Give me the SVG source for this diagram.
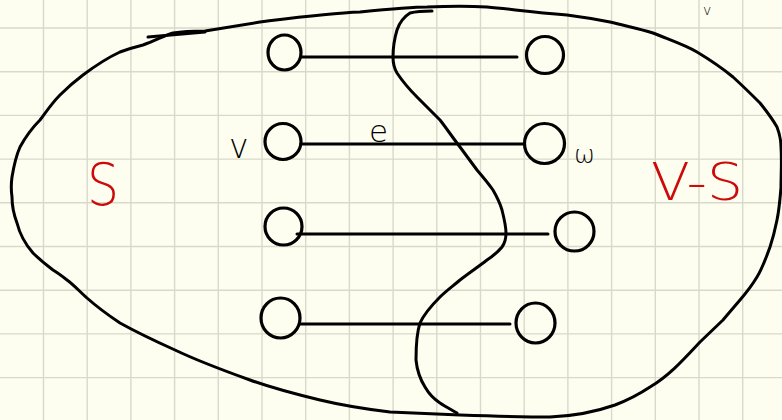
<svg xmlns="http://www.w3.org/2000/svg" width="782" height="420" viewBox="0 0 782 420">
<defs>
<style>
.grid line{stroke:#d9d9cb;stroke-width:1.4}
.ink{fill:none;stroke:#000;stroke-width:3;stroke-linecap:round;stroke-linejoin:round}
.node{fill:none;stroke:#000;stroke-width:3.2}
.edge{stroke:#000;stroke-width:3;stroke-linecap:round}
.lbl{font-family:"DejaVu Sans","Liberation Sans",sans-serif;font-weight:200;fill:#000}
.red{font-family:"DejaVu Sans","Liberation Sans",sans-serif;font-weight:200;fill:#cc0a0a}
</style>
</defs>
<rect width="782" height="420" fill="#fdfdf0"/>
<g class="grid">
<line x1="43.5" y1="0" x2="43.5" y2="420"/><line x1="87.2" y1="0" x2="87.2" y2="420"/><line x1="130.9" y1="0" x2="130.9" y2="420"/><line x1="174.6" y1="0" x2="174.6" y2="420"/><line x1="218.3" y1="0" x2="218.3" y2="420"/><line x1="262" y1="0" x2="262" y2="420"/><line x1="305.7" y1="0" x2="305.7" y2="420"/><line x1="349.4" y1="0" x2="349.4" y2="420"/><line x1="393.1" y1="0" x2="393.1" y2="420"/><line x1="436.8" y1="0" x2="436.8" y2="420"/><line x1="480.5" y1="0" x2="480.5" y2="420"/><line x1="524.2" y1="0" x2="524.2" y2="420"/><line x1="567.9" y1="0" x2="567.9" y2="420"/><line x1="611.6" y1="0" x2="611.6" y2="420"/><line x1="655.3" y1="0" x2="655.3" y2="420"/><line x1="699" y1="0" x2="699" y2="420"/><line x1="742.7" y1="0" x2="742.7" y2="420"/>
<line x1="0" y1="28" x2="782" y2="28"/><line x1="0" y1="71.7" x2="782" y2="71.7"/><line x1="0" y1="115.4" x2="782" y2="115.4"/><line x1="0" y1="159.1" x2="782" y2="159.1"/><line x1="0" y1="202.8" x2="782" y2="202.8"/><line x1="0" y1="246.5" x2="782" y2="246.5"/><line x1="0" y1="290.2" x2="782" y2="290.2"/><line x1="0" y1="333.9" x2="782" y2="333.9"/><line x1="0" y1="377.6" x2="782" y2="377.6"/>
</g>
<g id="set-boundary">
<path class="ink" stroke-width="2.6" d="M143,45 C155,41 165,35 173,33 C185,31 195,31 205,31 L260,22 C300,17 330,13 360,12 C390,9 410,7 427,7 C450,6 470,6 487,7 C510,9 530,12 567,15 C590,18 600,20 610,22 C630,27 640,29 653,33 C670,40 685,45 697,52 C712,61 722,68 733,77 C745,88 752,95 760,103 C768,113 773,120 777,127 C780,135 781,141 781,147 C782,160 781,175 781,187 C780,200 779,210 777,220 C775,230 773,238 770,247 C766,258 763,267 757,277 C751,287 746,293 740,300 C734,307 728,314 723,320 L700,342 C685,358 670,375 650,387 C638,395 628,400 615,405 C595,412 575,416 550,417 C520,417 490,416 460,415 C435,414 412,413 390,412 C365,409 345,406 320,400 C295,394 275,389 250,380 C225,371 200,362 175,350 C155,341 138,333 120,323 C108,315 96,306 87,298 C80,292 74,285 67,280 C62,276 58,273 53,270 C45,264 39,259 33,253 C26,245 20,235 17,223 C14,215 12,206 12,197 C11,190 11,184 12,177 C14,165 16,156 20,147 C26,136 32,128 40,120 C46,112 52,103 60,95 C67,88 75,81 83,75 C95,66 107,58 120,52 C128,49 135,47 143,45 Z"/>
<path class="ink" stroke-width="2.2" d="M148,37 L205,32"/>
</g>
<g id="cut">
<path class="ink" stroke-width="2.6" d="M432,11 C420,11 414,12 410,13 C402,18 399,24 397,30 C394,40 393,50 393,57 C393,63 394,68 397,73 C403,82 410,90 417,97 C425,105 432,112 440,120 C447,129 453,138 460,147 C466,155 471,162 477,170 C483,177 488,183 493,190 C497,197 500,203 502,210 C504,218 506,226 506,233 C506,239 505,243 502,247 C498,252 493,256 487,260 C478,267 469,273 460,280 C453,286 446,291 440,297 C433,304 425,312 420,323 C416,335 416,348 416,360 C417,370 420,379 425,387 C429,394 434,399 440,403 C446,407 452,410 457,413"/>
</g>
<g id="connectors">
<line class="edge" x1="301" y1="57" x2="517" y2="57"/>
<line class="edge" x1="301" y1="144" x2="523" y2="144"/>
<line class="edge" x1="297" y1="234" x2="548" y2="234"/>
<line class="edge" x1="300" y1="324" x2="510" y2="324"/>
</g>
<g id="node-a1"><ellipse class="node" cx="284.5" cy="52.5" rx="16.5" ry="17.5"/></g>
<g id="node-b1"><circle class="node" cx="545" cy="55" r="18.5"/></g>
<g id="node-v"><circle class="node" cx="283" cy="141.5" r="18"/></g>
<g id="node-w"><circle class="node" cx="544.5" cy="143.5" r="20"/></g>
<g id="node-a3"><circle class="node" cx="283.5" cy="226.5" r="18.5"/></g>
<g id="node-b3"><circle class="node" cx="574.5" cy="231.5" r="19.5"/></g>
<g id="node-a4"><ellipse class="node" cx="280.5" cy="318" rx="19.5" ry="20"/></g>
<g id="node-b4"><ellipse class="node" cx="535.5" cy="323" rx="19.5" ry="20"/></g>
<g id="labels">
<text class="lbl" x="229" y="158" font-size="33">v</text>
<text class="lbl" x="369" y="142" font-size="31">e</text>
<text class="lbl" x="574" y="163" font-size="25">ω</text>
<text class="lbl" x="703" y="15" font-size="14" font-weight="400">v</text>
<text class="red" x="87" y="205" font-size="58" textLength="32" lengthAdjust="spacingAndGlyphs">S</text>
<text class="red" x="651" y="200" font-size="52" textLength="92" lengthAdjust="spacingAndGlyphs">V-S</text>
</g>
</svg>
